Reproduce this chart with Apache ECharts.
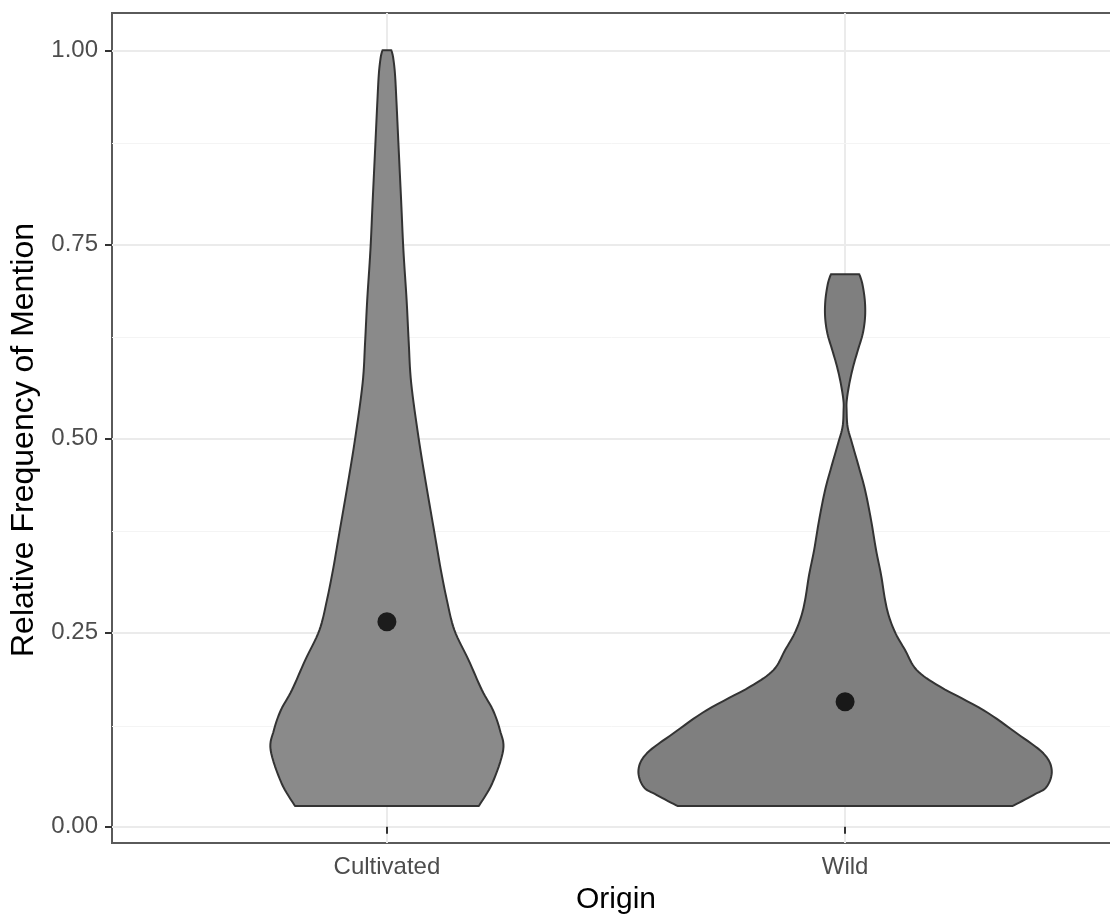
<!DOCTYPE html>
<html>
<head>
<meta charset="utf-8">
<script src="https://cdn.jsdelivr.net/npm/echarts@6/dist/echarts.min.js"></script>
<style>html,body{margin:0;padding:0;background:#fff;}#chart{width:1110px;height:918px;}</style>
</head>
<body>
<div id="chart"></div>
<script>
// Categories (x positions 1, 2)
const categories = ['Cultivated', 'Wild'];
// Violin outlines: y value and half-width (in category units)
const cultivatedY = [0.0267, 0.0563, 0.0988, 0.1245, 0.1503, 0.1760, 0.2146, 0.2532, 0.2918, 0.3305, 0.3562, 0.3781, 0.4425, 0.5005, 0.5713, 0.6241, 0.6782, 0.7426, 0.8070, 0.8752, 0.9357, 0.9704, 0.9910, 1.0000];
const cultivatedW = [0.2007, 0.2302, 0.2538, 0.2466, 0.2313, 0.2073, 0.1783, 0.1473, 0.1309, 0.1178, 0.1102, 0.1039, 0.0851, 0.0692, 0.0530, 0.0476, 0.0430, 0.0360, 0.0310, 0.0255, 0.0207, 0.0175, 0.0135, 0.0098];
const wildY = [0.0267, 0.0408, 0.0515, 0.0730, 0.0945, 0.1203, 0.1502, 0.1803, 0.2017, 0.2275, 0.2490, 0.2704, 0.2919, 0.3241, 0.3563, 0.3949, 0.4336, 0.4635, 0.4936, 0.5150, 0.5365, 0.5494, 0.5709, 0.5923, 0.6137, 0.6352, 0.6566, 0.6781, 0.6996, 0.7116];
const wildW = [0.3659, 0.4109, 0.4401, 0.4510, 0.4327, 0.3746, 0.3018, 0.2073, 0.1564, 0.1309, 0.1102, 0.0960, 0.0873, 0.0786, 0.0676, 0.0567, 0.0436, 0.0299, 0.0153, 0.0055, 0.0033, 0.0037, 0.0094, 0.0175, 0.0279, 0.0386, 0.0436, 0.0430, 0.0375, 0.0310];
// Mean points
const meanValues = [0.264, 0.161];
// Tick values
const yTicks = [0, 0.25, 0.5, 0.75, 1.0];
const yMinorTicks = [0.125, 0.375, 0.625, 0.875];
const xTicks = [1, 2];

const FONT = '"Liberation Sans", Arial, sans-serif';

// Smooth a pixel polyline with a Catmull-Rom spline (drawing only)
function smoothLine(p) {
  const out = [];
  const n = p.length;
  for (let i = 0; i < n - 1; i++) {
    const p0 = p[Math.max(i - 1, 0)], p1 = p[i], p2 = p[i + 1], p3 = p[Math.min(i + 2, n - 1)];
    const steps = 8;
    for (let s = 0; s < steps; s++) {
      const t = s / steps, t2 = t * t, t3 = t2 * t;
      const f = function (a, b, c, d) {
        return 0.5 * ((2 * b) + (-a + c) * t + (2 * a - 5 * b + 4 * c - d) * t2 + (-a + 3 * b - 3 * c + d) * t3);
      };
      out.push([f(p0[0], p1[0], p2[0], p3[0]), f(p0[1], p1[1], p2[1], p3[1])]);
    }
  }
  out.push(p[n - 1]);
  return out;
}

function violinRender(ys, ws, fill) {
  return function (params, api) {
    const cx = api.value(0);
    const right = [], left = [];
    for (let i = 0; i < ys.length; i++) {
      right.push(api.coord([cx + ws[i], ys[i]]));
      left.push(api.coord([cx - ws[i], ys[i]]));
    }
    const r = smoothLine(right);
    const l = smoothLine(left).reverse();
    return {
      type: 'polygon',
      shape: { points: r.concat(l) },
      style: { fill: fill, stroke: '#333333', lineWidth: 2, lineJoin: 'round' }
    };
  };
}

const chart = echarts.init(document.getElementById('chart'), null, { renderer: 'canvas' });
chart.setOption({
  animation: false,
  backgroundColor: '#ffffff',
  grid: { left: 112, top: 13, width: 1008, height: 830, outerBoundsMode: 'none', containLabel: false,
    show: true, borderColor: '#5a5a5a', borderWidth: 2, backgroundColor: 'transparent' },
  xAxis: {
    type: 'value', min: 0.4, max: 2.6,
    name: 'Origin', nameLocation: 'middle', nameGap: 42,
    nameTextStyle: { fontFamily: FONT, fontSize: 30, color: '#000000' },
    axisLine: { show: false },
    axisTick: { show: true, customValues: xTicks, length: 7, lineStyle: { color: '#333333', width: 2 } },
    axisLabel: { show: true, customValues: xTicks, margin: 12, fontFamily: FONT, fontSize: 24, color: '#4d4d4d',
      formatter: function (v) { return categories[Math.round(v) - 1] || ''; } },
    splitLine: { show: true, lineStyle: { color: '#ebebeb', width: 2 } }
  },
  yAxis: {
    type: 'value', min: -0.021, max: 1.048,
    name: 'Relative Frequency of Mention', nameLocation: 'middle', nameGap: 59, nameRotate: 90,
    nameTextStyle: { fontFamily: FONT, fontSize: 32, color: '#000000', padding: [0, 24, 0, 0] },
    axisLine: { show: false },
    axisTick: { show: true, customValues: yTicks, length: 7, lineStyle: { color: '#333333', width: 2 } },
    axisLabel: { show: true, customValues: yTicks, margin: 14, fontFamily: FONT, fontSize: 24, color: '#4d4d4d',
      formatter: function (v) { return v.toFixed(2); } },
    splitLine: { show: true, lineStyle: { color: '#ebebeb', width: 2 } }
  },
  series: [
    {
      type: 'scatter', data: [], z: 1, silent: true,
      markLine: {
        z: 1, silent: true, symbol: ['none', 'none'], label: { show: false },
        lineStyle: { color: '#f4f4f4', width: 1, type: 'solid' },
        data: yMinorTicks.map(function (v) { return { yAxis: v }; })
      }
    },
    { type: 'custom', name: categories[0], data: [[1]], z: 3, renderItem: violinRender(cultivatedY, cultivatedW, '#8a8a8a') },
    { type: 'custom', name: categories[1], data: [[2]], z: 3, renderItem: violinRender(wildY, wildW, '#7f7f7f') },
    {
      type: 'scatter', z: 5, symbol: 'circle', symbolSize: 19,
      itemStyle: { color: '#000000' },
      data: meanValues.map(function (v, i) { return [xTicks[i], v]; })
    }
  ]
});
</script>
</body>
</html>
